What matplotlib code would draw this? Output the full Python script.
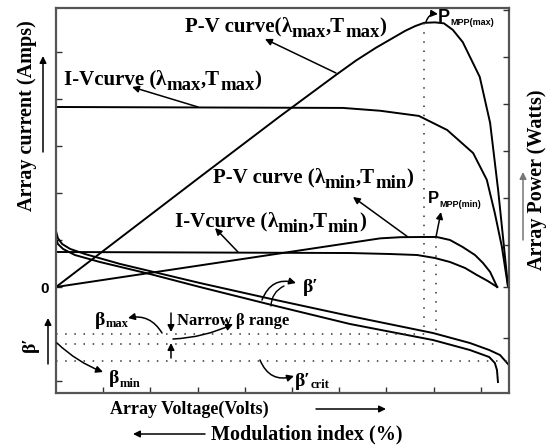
import matplotlib
matplotlib.use("Agg")
import matplotlib.pyplot as plt
from matplotlib.transforms import IdentityTransform

# === curve data (volts on x, "units" on y; 0 = origin of I/P and beta axes) ===
volt_pv_max = [0, 3.05, 4.73, 5.93, 6.36, 6.78, 7.40, 7.61, 7.80, 8.03, 8.22, 8.41, 8.62, 8.98, 9.20, 9.37, 9.49, 9.58]
pow_pv_max = [0, 2.34, 3.62, 4.51, 4.82, 5.09, 5.45, 5.55, 5.62, 5.63, 5.61, 5.47, 5.21, 4.47, 3.49, 2.06, 0.89, 0]

volt_iv_max = [0, 6.08, 6.87, 7.69, 8.29, 8.84, 9.13, 9.30, 9.45, 9.58]
cur_iv_max = [3.83, 3.81, 3.75, 3.64, 3.34, 2.85, 2.28, 1.57, 0.85, 0]

volt_pv_min = [0, 6.87, 7.30, 7.78, 8.07, 8.35, 8.62, 8.88, 9.05, 9.20, 9.35]
pow_pv_min = [0, 1.035, 1.06, 1.064, 1.064, 1.0, 0.85, 0.68, 0.51, 0.32, 0.0]

volt_iv_min = [0, 6.23, 7.08, 7.65, 8.03, 8.35, 8.67, 8.92, 9.15, 9.35]
cur_iv_min = [0.745, 0.723, 0.702, 0.681, 0.617, 0.532, 0.404, 0.255, 0.128, 0.0]

volt_beta_a = [0, 0.04, 0.13, 0.30, 0.62, 1.36, 3.05, 4.66, 6.23, 7.99, 8.77, 9.18, 9.41, 9.58]
beta_a = [1.19, 1.04, 0.915, 0.81, 0.70, 0.49, 0.085, -0.277, -0.617, -0.979, -1.191, -1.34, -1.447, -1.64]

volt_beta_b = [0, 0.04, 0.15, 0.40, 0.93, 1.99, 3.05, 4.66, 6.23, 7.99, 8.77, 9.18, 9.30, 9.345, 9.366]
beta_b = [1.04, 0.915, 0.809, 0.681, 0.532, 0.277, 0.0, -0.404, -0.787, -1.128, -1.34, -1.489, -1.617, -1.766, -2.021]

# dotted beta levels (beta_max, beta_min, beta'_crit) and where they stop
beta_levels = [-1.0, -1.21, -1.57]
beta_level_ends = [7.85, 8.0, 9.55]
# dotted verticals at the MPP points
mpp_volts = [7.80, 8.05]
mpp_tops = [5.62, 1.06]
mpp_bottom = -0.96

x_ticks = [1, 2, 3, 4, 5, 6, 7, 8, 9]
left_ticks = [-2, 0, 1, 2, 3, 4, 5]
right_ticks = [-1.085, 0, 0.894, 1.894, 2.894, 3.894, 4.894, 5.894]

plt.rcParams['font.family'] = ['Liberation Serif', 'DejaVu Serif']
plt.rcParams['font.weight'] = 'bold'

W, H = 552, 447
fig = plt.figure(figsize=(W / 100, H / 100), dpi=100)
ax = fig.add_axes([56 / W, 1 - 393 / H, 453 / W, 385 / H])
ax.set_xlim(0, 9.6)
ax.set_ylim(-2.255, 5.936)
renderer = fig.canvas.get_renderer()


def pt(x, y):
    # picture pixel -> data units (only for placing labels and arrows)
    return ((x - 56) / 47.19, (287 - y) / 47.0)


lw = 1.4
ax.plot(volt_pv_max, pow_pv_max, color='k', lw=lw)
ax.plot(volt_iv_max, cur_iv_max, color='k', lw=lw)
ax.plot(volt_pv_min, pow_pv_min, color='k', lw=lw)
ax.plot(volt_iv_min, cur_iv_min, color='k', lw=lw)
ax.plot(volt_beta_a, beta_a, color='k', lw=lw)
ax.plot(volt_beta_b, beta_b, color='k', lw=lw)

dots = dict(color='#333333', lw=1.1, linestyle=(0, (1, 5)))
for lev, end in zip(beta_levels, beta_level_ends):
    ax.plot([0, end], [lev, lev], **dots)
for v, top in zip(mpp_volts, mpp_tops):
    ax.plot([v, v], [top, mpp_bottom], **dots)

for s in ax.spines.values():
    s.set_linewidth(1.6)
    s.set_color('#555555')

ax.set_xticks(x_ticks)
ax.set_xticklabels([])
ax.set_yticks(left_ticks)
ax.set_yticklabels(['' if t != 0 else '0' for t in left_ticks],
                   fontfamily='Liberation Sans', fontsize=11, fontweight='bold')
ax.tick_params(direction='in', length=4, width=1, color='#333333', pad=5)

ax2 = ax.twinx()
ax2.set_ylim(ax.get_ylim())
ax2.set_yticks(right_ticks)
ax2.set_yticklabels([])
ax2.tick_params(direction='in', length=4, width=1, color='#333333')
for s in ax2.spines.values():
    s.set_visible(False)

arr = dict(arrowstyle='-|>', color='k', lw=1.1, mutation_scale=10, shrinkA=0, shrinkB=0)


def arrow(p_from, p_to, rad=0.0):
    props = dict(arr)
    if rad:
        props['connectionstyle'] = f'arc3,rad={rad}'
    ax.annotate('', xy=pt(*p_to), xytext=pt(*p_from), arrowprops=props,
                annotation_clip=False)


def rich(x, y, pieces, **kw):
    # pieces: (text, fontsize, drop in px); laid out left to right on one baseline
    X = x
    for s, size, drop in pieces:
        t = fig.text(X, H - y - drop, s, fontsize=size, va='baseline', ha='left',
                     transform=IdentityTransform(), **kw)
        X = t.get_window_extent(renderer).x1


def curve_label(x, y, head, sub):
    rich(x, y, [(head + '(', 15, 0), ('λ', 15, 0), (sub, 13.5, 5),
                (',T', 15, 0), (sub, 13.5, 5), (')', 15, 0)])


curve_label(185, 32, 'P-V curve', 'max')
curve_label(64, 85, 'I-Vcurve ', 'max')
curve_label(213, 183, 'P-V curve ', 'min')
curve_label(175, 227, 'I-Vcurve ', 'min')

arrow((336, 73), (265, 39))
arrow((198, 107), (132, 87))
arrow((408, 237), (353, 197))
arrow((238, 252), (215, 228))

# MPP labels
rich(438, 22, [('P', 13, 0), ('MPP(max)', 6.5, 3)], fontfamily='Liberation Sans')
rich(428, 203, [('P', 12, 0), ('MPP(min)', 6.5, 4)], fontfamily='Liberation Sans')
arrow((426, 22), (438, 14), rad=-0.4)
arrow((436, 237), (441, 212))

# beta labels
rich(303, 292, [("β′", 14, 0)])
arrow((262, 300), (296, 283), rad=-0.45)
ax.annotate('', xy=pt(284, 286), xytext=pt(271, 306),
            arrowprops=dict(arrowstyle='-', color='k', lw=1.0,
                            connectionstyle='arc3,rad=-0.3', shrinkA=0, shrinkB=0))

rich(95, 325, [('β', 14, 0), ('max', 9, 2)])
arrow((162, 333), (128, 318), rad=0.35)
rich(109, 383, [('β', 14, 0), ('min', 9, 4)])
arrow((57, 343), (103, 372), rad=0.1)
rich(295, 386, [('β′', 14, 0), ('crit', 9, 2)])
arrow((260, 360), (294, 376), rad=0.45)

rich(177, 325, [('Narrow β range', 12, 0)])
arrow((171, 313), (171, 332))
arrow((171, 358), (171, 343))
arrow((173, 339), (233, 324), rad=0.1)


# axis labels and their arrows (figure pixels)
def fpos(x, y):
    return (x / W, 1 - y / H)


def farrow(p_from, p_to, color='k'):
    props = dict(arr)
    props['color'] = color
    ax.annotate('', xy=(p_to[0], H - p_to[1]), xytext=(p_from[0], H - p_from[1]),
                xycoords='figure pixels', textcoords='figure pixels',
                arrowprops=props, annotation_clip=False)


fig.text(*fpos(27, 116), 'Array current (Amps)', rotation=90, fontsize=14.5,
         ha='center', va='center')
farrow((43, 152), (43, 56))
fig.text(*fpos(30, 344), "β′", rotation=90, fontsize=14, ha='center', va='center')
farrow((48, 364), (48, 318))
fig.text(*fpos(537, 180), 'Array Power (Watts)', rotation=90, fontsize=14.5,
         ha='center', va='center')
farrow((523, 240), (523, 172), color='#777777')
fig.text(*fpos(189, 409), 'Array Voltage(Volts)', fontsize=13, ha='center', va='center')
farrow((316, 409), (386, 409))
fig.text(*fpos(307, 434), 'Modulation index (%)', fontsize=14.5, ha='center', va='center')
farrow((205, 434), (133, 434))

fig.savefig('out.png', dpi=100)
